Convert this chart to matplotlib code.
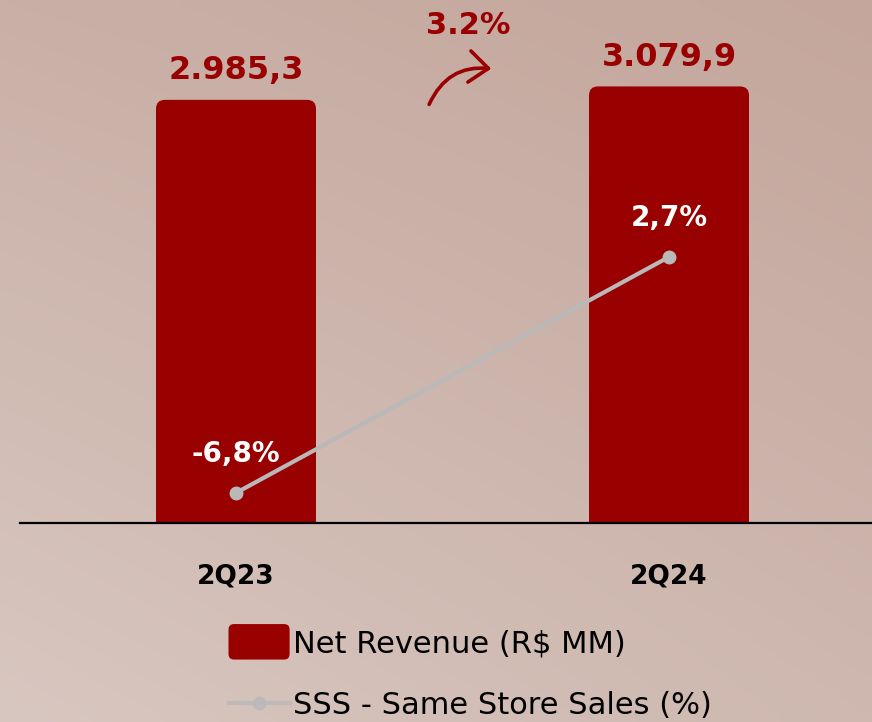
import numpy as np
import matplotlib
matplotlib.use("Agg")
import matplotlib.pyplot as plt
from matplotlib.patches import FancyBboxPatch, FancyArrowPatch
from matplotlib.lines import Line2D
from matplotlib.legend_handler import HandlerPatch

categories = ["2Q23", "2Q24"]
revenue = [2985.3, 3079.9]
revenue_labels = ["2.985,3", "3.079,9"]
sss = [-6.8, 2.7]
sss_labels = ["-6,8%", "2,7%"]
growth_label = "3.2%"

RED = "#990000"
GRAY = "#b9b9b9"

W, H = 872, 722
fig = plt.figure(figsize=(W / 100, H / 100), dpi=100)

# background gradient
bg = fig.add_axes([0, 0, 1, 1], zorder=-10)
tl = np.array([201, 176, 167]) / 255
tr = np.array([196, 166, 156]) / 255
bl = np.array([216, 199, 192]) / 255
br = np.array([206, 184, 176]) / 255
ny, nx = 100, 120
yy, xx = np.mgrid[0:1:ny * 1j, 0:1:nx * 1j]
img = (tl[None, None] * ((1 - xx) * (1 - yy))[..., None] + tr[None, None] * (xx * (1 - yy))[..., None]
       + bl[None, None] * ((1 - xx) * yy)[..., None] + br[None, None] * (xx * yy)[..., None])
bg.imshow(img, aspect="auto", extent=[0, 1, 0, 1], origin="upper", interpolation="bicubic")
bg.axis("off")

# main axes
base_px = 523
ax = fig.add_axes([20 / W, (H - base_px) / H, (W - 20) / W, base_px / H])
ax.patch.set_alpha(0)
x = np.arange(len(categories))
unit = 433.0
bw = 160 / unit
bars = ax.bar(x, revenue, width=bw, color=RED, zorder=2)
ax.set_xlim(-(236 - 20) / unit, 1 + (872 - 669) / unit)
ppu = 0.14175  # pixels per R$ unit
ax.set_ylim(0, base_px / ppu)

# rounded top corners
r_x = 9 / unit
aspect = (9 / ppu) / r_x
for b in bars:
    b.set_visible(False)
    bx, by = b.get_x(), b.get_y()
    fb = FancyBboxPatch((bx, by - 200), b.get_width(), b.get_height() + 200,
                        boxstyle=f"round,pad=0,rounding_size={r_x}", mutation_aspect=aspect,
                        facecolor=RED, edgecolor="none", zorder=2)
    ax.add_patch(fb)

for s in ["top", "right", "left"]:
    ax.spines[s].set_visible(False)
ax.spines["bottom"].set_linewidth(1.6)
ax.spines["bottom"].set_color("black")
ax.spines["bottom"].set_zorder(5)
ax.set_yticks([])
ax.set_xticks(x)
ax.set_xticklabels(categories, fontsize=19, fontweight="heavy", family="DejaVu Sans")
ax.tick_params(axis="x", length=0, pad=29)

for xi, v, lab in zip(x, revenue, revenue_labels):
    ax.annotate(lab, (xi, v), xytext=(0, 10), textcoords="offset points", ha="center", va="bottom",
                fontsize=23, fontweight="bold", color=RED)

# secondary axis for SSS
ax2 = ax.twinx()
ax2.patch.set_alpha(0)
pp = 24.84
zero_px = 324
ax2.set_ylim((zero_px - base_px) / pp, zero_px / pp)
ax2.axis("off")
ax2.plot(x, sss, color=GRAY, lw=3, marker="o", markersize=9, zorder=4)
for xi, v, lab in zip(x, sss, sss_labels):
    ax2.annotate(lab, (xi, v), xytext=(0, 18), textcoords="offset points", ha="center", va="bottom",
                 fontsize=20, fontweight="bold", color="white")

# growth label & arrow
fig.text(468 / W, 1 - 25 / H, growth_label, ha="center", va="center", fontsize=22,
         fontweight="bold", color=RED)
arr = FancyArrowPatch((428 / W, 1 - 107 / H), (494 / W, 1 - 69 / H), transform=fig.transFigure,
                      connectionstyle="arc3,rad=-0.38", arrowstyle="->,head_length=0.55,head_width=0.45",
                      mutation_scale=25, color=RED, lw=2.6)
fig.patches.append(arr)

# legend
class RoundHandler(HandlerPatch):
    def create_artists(self, legend, orig_handle, xdescent, ydescent, width, height, fontsize, trans):
        p = FancyBboxPatch((-xdescent, -ydescent - 0.33 * height), width, height * 1.66,
                           boxstyle="round,pad=0,rounding_size=4", facecolor=RED, edgecolor="none",
                           transform=trans)
        return [p]

h_bar = FancyBboxPatch((0, 0), 1, 1, facecolor=RED)
h_line = Line2D([], [], color=GRAY, lw=3, marker="o", markersize=9, alpha=0.8)
leg = fig.legend([h_bar, h_line], ["Net Revenue (R$ MM)", "SSS - Same Store Sales (%)"],
                 loc="upper left", bbox_to_anchor=(201 / W, 1 - 602 / H), frameon=False,
                 fontsize=22, handlelength=2.0, handletextpad=0.1, labelspacing=1.05,
                 handler_map={FancyBboxPatch: RoundHandler()})

fig.savefig("out.png", dpi=100)
